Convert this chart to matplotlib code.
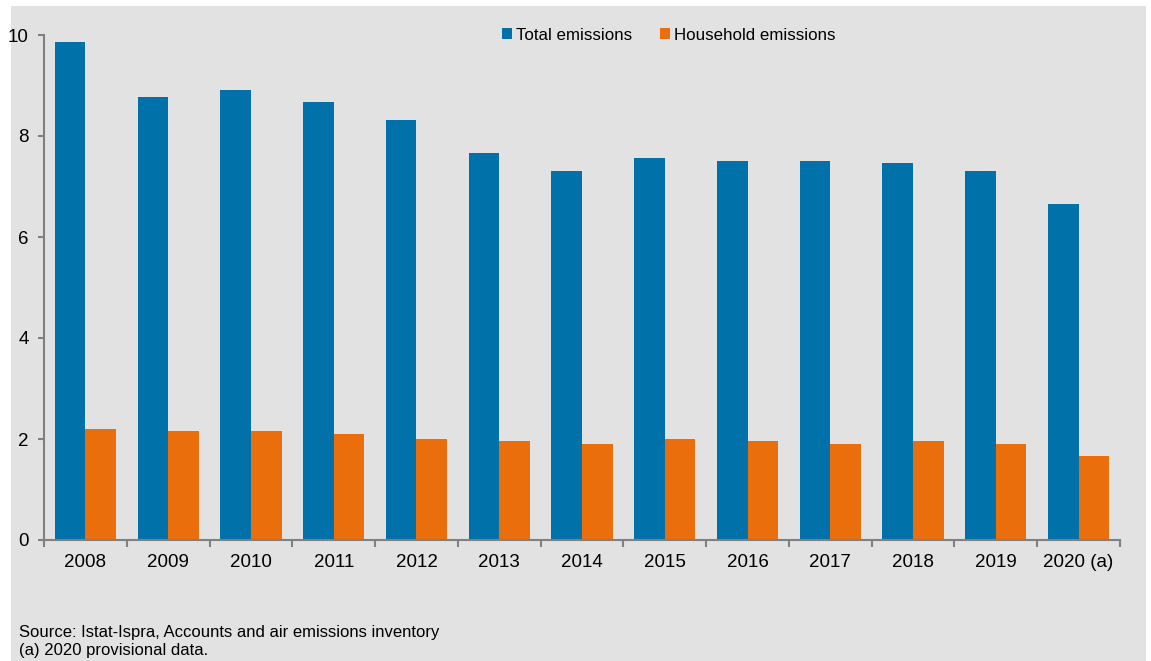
import matplotlib
matplotlib.use("Agg")
import matplotlib.pyplot as plt
import numpy as np
from matplotlib import font_manager
from matplotlib.patches import Rectangle

years = ["2008", "2009", "2010", "2011", "2012", "2013", "2014",
         "2015", "2016", "2017", "2018", "2019", "2020 (a)"]
total = [9.86, 8.77, 8.91, 8.67, 8.32, 7.66, 7.31, 7.56, 7.50, 7.50, 7.47, 7.31, 6.65]
household = [2.20, 2.16, 2.16, 2.10, 2.00, 1.96, 1.90, 2.00, 1.96, 1.90, 1.96, 1.90, 1.66]

blue = "#0071A9"
orange = "#EA6E0B"
bg = "#E2E2E2"

plt.rcParams["font.family"] = ["Liberation Sans", "DejaVu Sans"]

# narrow face for the source note, if it is installed
names = {f.name for f in font_manager.fontManager.ttflist}
if "Liberation Sans Narrow" in names:
    note_font, note_size = "Liberation Sans Narrow", 14.5
else:
    note_font, note_size = "Liberation Sans", 12

fig = plt.figure(figsize=(11.51, 6.61), dpi=100)
fig.patch.set_facecolor("white")
fig.patches.append(Rectangle((11 / 1151, 0), 1135 / 1151, 655 / 661,
                             transform=fig.transFigure, facecolor=bg,
                             edgecolor="none", zorder=-10))

ax = fig.add_axes([44 / 1151, 1 - 540 / 661, (1120 - 44) / 1151, (540 - 35) / 661])
ax.set_facecolor("none")

x = np.arange(len(years))
w = 0.37
ax.bar(x - w / 2, total, w, color=blue, label="Total emissions")
ax.bar(x + w / 2, household, w, color=orange, label="Household emissions")

ax.set_xlim(-0.5, len(years) - 0.5)
ax.set_ylim(0, 10)
ax.set_yticks([0, 2, 4, 6, 8, 10])
ax.set_xticks(x)
ax.set_xticklabels(years)
ax.set_xticks(np.arange(len(years) + 1) - 0.5, minor=True)
ax.tick_params(axis="x", which="major", length=0, pad=10, labelsize=13.5)
ax.tick_params(axis="x", which="minor", length=5, color="#808080", width=1.5, direction="out")
ax.tick_params(axis="y", length=4, color="#808080", width=1.5, pad=7, labelsize=13.5)

for s in ["top", "right"]:
    ax.spines[s].set_visible(False)
for s in ["left", "bottom"]:
    ax.spines[s].set_color("#808080")
    ax.spines[s].set_linewidth(1.5)

fig.legend(loc="center left", bbox_to_anchor=(502 / 1151, 1 - 35 / 661), ncol=2,
           frameon=False, fontsize=12.2, handlelength=0.6, handleheight=0.6,
           handletextpad=0.25, columnspacing=1.6, borderpad=0, borderaxespad=0)

fig.text(19 / 1151, 1 - 633 / 661, "Source: Istat-Ispra, Accounts and air emissions inventory",
         fontsize=note_size, family=[note_font, "DejaVu Sans"], va="center")
fig.text(19 / 1151, 1 - 650 / 661, "(a) 2020 provisional data.",
         fontsize=note_size, family=[note_font, "DejaVu Sans"], va="center")

fig.savefig("out.png", dpi=100)
